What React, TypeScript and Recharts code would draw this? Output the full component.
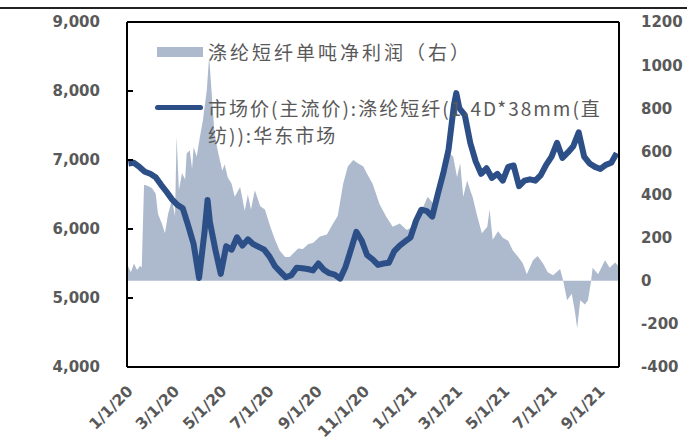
import { ComposedChart, Area, Line, XAxis, YAxis, ReferenceLine } from "recharts"

// 市场价 (元/吨), weekly, left axis
const priceDates = [
  "2020-01-03", "2020-01-10", "2020-01-17", "2020-01-24", "2020-01-31",
  "2020-02-07", "2020-02-14", "2020-02-21", "2020-02-28",
  "2020-03-06", "2020-03-13", "2020-03-20", "2020-03-27",
  "2020-04-03", "2020-04-10", "2020-04-14", "2020-04-17", "2020-04-24",
  "2020-05-01", "2020-05-08", "2020-05-15", "2020-05-22", "2020-05-29",
  "2020-06-05", "2020-06-12", "2020-06-19", "2020-06-26",
  "2020-07-03", "2020-07-10", "2020-07-17", "2020-07-24", "2020-07-31",
  "2020-08-07", "2020-08-14", "2020-08-21", "2020-08-28",
  "2020-09-04", "2020-09-11", "2020-09-18", "2020-09-25",
  "2020-10-02", "2020-10-09", "2020-10-16", "2020-10-23", "2020-10-30",
  "2020-11-06", "2020-11-13", "2020-11-20", "2020-11-27",
  "2020-12-04", "2020-12-11", "2020-12-18", "2020-12-25",
  "2021-01-01", "2021-01-08", "2021-01-15", "2021-01-22", "2021-01-29",
  "2021-02-05", "2021-02-12", "2021-02-19", "2021-02-26", "2021-03-01",
  "2021-03-05", "2021-03-12", "2021-03-19", "2021-03-26",
  "2021-04-02", "2021-04-09", "2021-04-16", "2021-04-23", "2021-04-30",
  "2021-05-07", "2021-05-14", "2021-05-21", "2021-05-28",
  "2021-06-04", "2021-06-11", "2021-06-18", "2021-06-25",
  "2021-07-02", "2021-07-09", "2021-07-16", "2021-07-23", "2021-07-30",
  "2021-08-06", "2021-08-13", "2021-08-20", "2021-08-27",
  "2021-09-03", "2021-09-10", "2021-09-17", "2021-09-24",
]
const price = [
  6950, 6960, 6900, 6830, 6800,
  6750, 6640, 6540, 6430,
  6350, 6300, 6050, 5780,
  5290, 5950, 6420, 6100, 5700,
  5350, 5750, 5700, 5880, 5760,
  5850, 5780, 5740, 5700,
  5600, 5460, 5380, 5300, 5330,
  5440, 5430, 5420, 5400,
  5500, 5410, 5360, 5340,
  5280, 5450, 5700, 5960, 5830,
  5620, 5560, 5480, 5500,
  5510, 5680, 5760, 5820,
  5880, 6120, 6280, 6260, 6180,
  6500, 6800, 7150, 7800, 7970,
  7750, 7650, 7250, 6980,
  6800, 6880, 6740, 6800, 6700,
  6900, 6920, 6620, 6700,
  6720, 6700, 6780, 6930,
  7050, 7250, 7030, 7110, 7200,
  7400, 7050, 6950, 6900,
  6870, 6930, 6960, 7100,
]

// 单吨净利润 (元/吨), right axis — sampled more often where it swings hard
const profitDates = [
  "2020-01-02", "2020-01-06", "2020-01-10", "2020-01-14", "2020-01-18", "2020-01-20",
  "2020-01-23", "2020-01-28", "2020-02-02", "2020-02-07", "2020-02-10", "2020-02-15",
  "2020-02-19", "2020-02-23", "2020-02-28", "2020-03-03", "2020-03-05", "2020-03-08",
  "2020-03-12", "2020-03-16", "2020-03-18", "2020-03-22", "2020-03-25", "2020-03-27",
  "2020-03-31", "2020-04-04", "2020-04-08", "2020-04-13", "2020-04-16", "2020-04-20",
  "2020-04-23", "2020-04-27", "2020-05-03", "2020-05-06", "2020-05-10", "2020-05-15",
  "2020-05-19", "2020-05-26", "2020-06-01", "2020-06-05", "2020-06-09", "2020-06-14",
  "2020-06-21", "2020-06-27", "2020-07-04", "2020-07-10", "2020-07-16", "2020-07-23",
  "2020-07-29", "2020-08-02", "2020-08-09", "2020-08-15", "2020-08-22", "2020-08-28",
  "2020-09-06", "2020-09-15", "2020-09-23", "2020-09-29", "2020-10-06", "2020-10-12",
  "2020-10-19", "2020-10-25", "2020-11-01", "2020-11-06", "2020-11-13", "2020-11-22",
  "2020-12-01", "2020-12-09", "2020-12-18", "2020-12-27",
  "2021-01-04", "2021-01-10", "2021-01-17", "2021-01-23", "2021-01-30", "2021-02-05",
  "2021-02-10", "2021-02-17", "2021-02-21", "2021-02-25", "2021-03-02", "2021-03-06",
  "2021-03-10", "2021-03-15", "2021-03-19", "2021-03-22", "2021-03-28", "2021-04-03",
  "2021-04-10", "2021-04-13", "2021-04-17", "2021-04-24", "2021-04-30", "2021-05-07",
  "2021-05-13", "2021-05-20", "2021-05-26", "2021-05-31", "2021-06-08", "2021-06-14",
  "2021-06-21", "2021-06-27", "2021-07-04", "2021-07-13", "2021-07-17", "2021-07-22",
  "2021-07-28", "2021-08-01", "2021-08-04", "2021-08-08", "2021-08-14", "2021-08-18",
  "2021-08-22", "2021-08-24", "2021-08-31", "2021-09-09", "2021-09-15", "2021-09-22",
  "2021-09-26",
]
const profit = [
  70, 40, 80, 50, 70, 60,
  445, 440, 430, 405, 310, 265,
  220, 310, 375, 300, 670, 420,
  500, 470, 590, 605, 520, 620,
  575, 665, 745, 885, 1040, 835,
  680, 605, 510, 540, 480, 450,
  390, 435, 325, 400, 330, 420,
  345, 330, 250, 190, 140, 110,
  110, 125, 150, 147, 170, 175,
  205, 215, 265, 300, 450, 530,
  560, 545, 530, 495, 450, 355,
  295, 250, 265, 235,
  250, 315, 340, 390, 360, 405,
  465, 545, 590, 575, 480, 545,
  390, 465, 420, 390, 300, 220,
  250, 330, 190, 230, 200, 185,
  140, 110, 80, 30, 95, 115,
  80, 40, 25, 55, 0, -90,
  -60, -140, -220, -90, -110, -90,
  0, 60, 30, 95, 60, 85,
  70,
]

const priceTicks = [4000, 5000, 6000, 7000, 8000, 9000]
const profitTicks = [-400, -200, 0, 200, 400, 600, 800, 1000, 1200]
const dateTicks = [
  "2020-01-01", "2020-03-01", "2020-05-01", "2020-07-01", "2020-09-01", "2020-11-01",
  "2021-01-01", "2021-03-01", "2021-05-01", "2021-07-01", "2021-09-01",
]

const priceData = priceDates.map((d, i) => ({ t: Date.parse(d), price: price[i] }))
const profitData = profitDates.map((d, i) => ({ t: Date.parse(d), profit: profit[i] }))

const AREA_FILL = "#adbacd"
const LINE_BLUE = "#2d4f88"
const LABEL_GREY = "#595959"
const AXIS_FONT = "'DejaVu Sans', sans-serif"

function LeftTick({ x, y, payload }: any) {
  return (
    <g>
      <line x1={x} x2={x + 6} y1={y} y2={y} stroke="#000" strokeWidth={2} />
      <text x={x - 27} y={y} dy="0.36em" textAnchor="end" fill={LABEL_GREY}
        fontSize={15} fontWeight="bold" fontFamily={AXIS_FONT}>
        {payload.value.toLocaleString("en-US")}
      </text>
    </g>
  )
}

function RightTick({ x, y, payload }: any) {
  return (
    <text x={x + 22} y={y} dy="0.36em" textAnchor="start" fill={LABEL_GREY}
      fontSize={15} fontWeight="bold" fontFamily={AXIS_FONT}>
      {payload.value}
    </text>
  )
}

function DateTick({ x, y, payload }: any) {
  const d = new Date(payload.value)
  const label = `${d.getUTCMonth() + 1}/${d.getUTCDate()}/${String(d.getUTCFullYear()).slice(2)}`
  const ax = x + 7
  const ay = y + 25
  return (
    <text x={ax} y={ay} transform={`rotate(-45 ${ax} ${ay})`} textAnchor="end"
      fill={LABEL_GREY} fontSize={15.5} fontWeight="bold" fontFamily={AXIS_FONT}>
      {label}
    </text>
  )
}

const legendText: React.CSSProperties = {
  position: "absolute",
  left: 208,
  color: LABEL_GREY,
  fontSize: 19,
  letterSpacing: 2,
  fontFamily: "'Noto Sans CJK SC', sans-serif",
  whiteSpace: "nowrap",
  lineHeight: "27px",
}

export default function App() {
  return (
    <div style={{ position: "absolute", left: 0, top: 0, width: 687, height: 445, background: "#fff", overflow: "hidden" }}>
      <div style={{ position: "absolute", left: 0, top: 7, width: 687, height: 2, background: "#222" }} />
      <ComposedChart width={687} height={445} margin={{ top: 22, right: 0, bottom: 0, left: 0 }}>
        <XAxis
          dataKey="t"
          type="number"
          scale="time"
          domain={[Date.parse("2020-01-01"), Date.parse("2021-09-27")]}
          ticks={dateTicks.map((d) => Date.parse(d))}
          tick={<DateTick />}
          tickLine={false}
          tickSize={0}
          tickMargin={0}
          axisLine={{ stroke: "#000", strokeWidth: 2 }}
          height={78}
          interval={0}
          allowDuplicatedCategory={false}
        />
        <YAxis
          yAxisId="left"
          domain={[4000, 9000]}
          ticks={priceTicks}
          tick={<LeftTick />}
          tickLine={false}
          tickSize={0}
          tickMargin={0}
          axisLine={{ stroke: "#000", strokeWidth: 2 }}
          width={127}
          interval={0}
        />
        <YAxis
          yAxisId="right"
          orientation="right"
          domain={[-400, 1200]}
          ticks={profitTicks}
          tick={<RightTick />}
          tickLine={false}
          tickSize={0}
          tickMargin={0}
          axisLine={{ stroke: "#000", strokeWidth: 2 }}
          width={68}
          interval={0}
        />
        <Area
          yAxisId="right"
          data={profitData}
          dataKey="profit"
          type="linear"
          baseValue={0}
          fill={AREA_FILL}
          fillOpacity={1}
          stroke="none"
          isAnimationActive={false}
        />
        <Line
          yAxisId="left"
          data={priceData}
          dataKey="price"
          type="linear"
          stroke={LINE_BLUE}
          strokeWidth={6}
          dot={false}
          strokeLinejoin="round"
          isAnimationActive={false}
        />
        <ReferenceLine yAxisId="left" y={9000} stroke="#000" strokeWidth={2} />
      </ComposedChart>

      <div style={{ position: "absolute", left: 157, top: 47, width: 46, height: 10, background: AREA_FILL }} />
      <div style={{ ...legendText, top: 38, letterSpacing: 3 }}>涤纶短纤单吨净利润（右）</div>

      <div style={{ position: "absolute", left: 155, top: 105, width: 48, height: 5, borderRadius: 3, background: LINE_BLUE }} />
      <div style={{ ...legendText, top: 94 }}>
        市场价(主流价):涤纶短纤(1.4D*38mm(直
        <br />
        纺)):华东市场
      </div>
    </div>
  )
}
